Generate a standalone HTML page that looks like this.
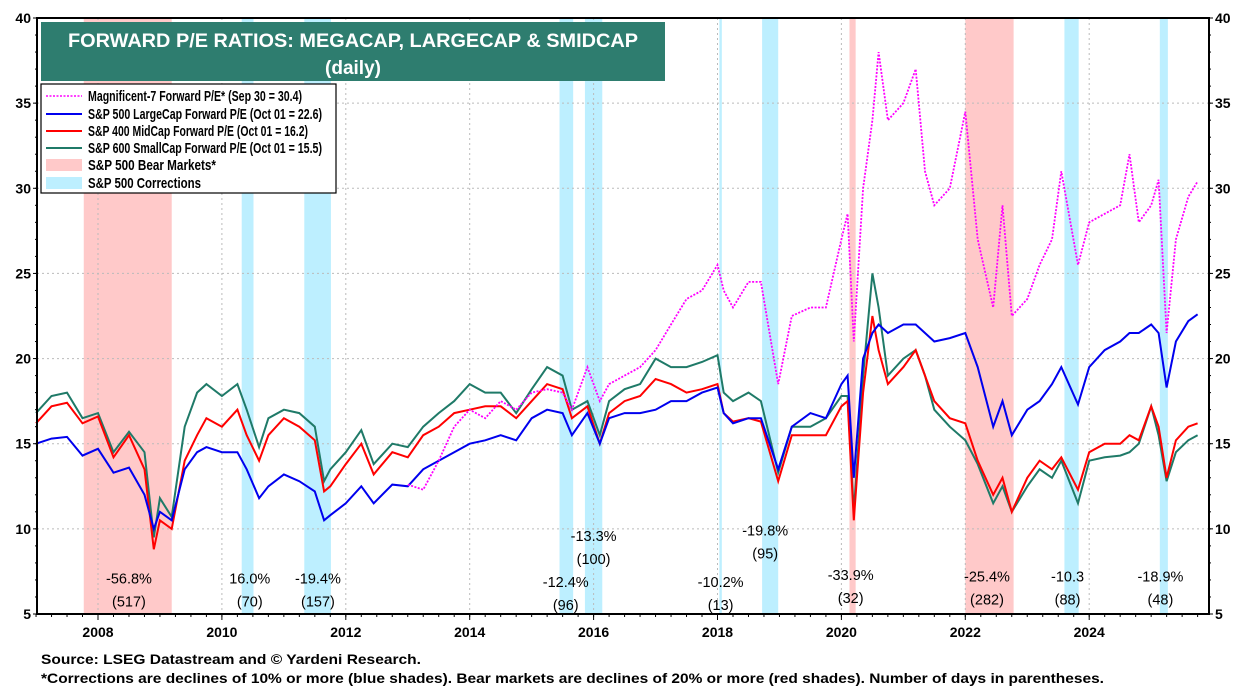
<!DOCTYPE html>
<html><head><meta charset="utf-8"><style>
body{margin:0;background:#fff;}
svg{display:block;font-family:"Liberation Sans",Arial,sans-serif;}
</style></head><body>
<svg id="chart" width="1250" height="694" viewBox="0 0 1250 694" xmlns="http://www.w3.org/2000/svg">
<g id="bands"></g><g id="grid"></g><g id="lines"></g><g id="axes"></g><g id="ann"></g>
<g>
<rect x="41" y="22" width="624" height="59" fill="#2e7d6f"/>
<text x="68" y="47" fill="#fff" font-size="19" font-weight="bold" textLength="570" lengthAdjust="spacingAndGlyphs">FORWARD P/E RATIOS: MEGACAP, LARGECAP &amp; SMIDCAP</text>
<text x="353" y="74" fill="#fff" font-size="19" font-weight="bold" text-anchor="middle">(daily)</text>
</g>
<g font-size="15" font-weight="bold">
<rect x="41" y="84" width="295" height="109" fill="#fff" stroke="#000" stroke-width="1.2"/>
<g><line x1="46" y1="96" x2="82" y2="96" stroke="#ff00ff" stroke-width="1.5" stroke-dasharray="2,1.5"/><text x="88" y="101" textLength="214" lengthAdjust="spacingAndGlyphs">Magnificent-7 Forward P/E* (Sep 30 = 30.4)</text></g>
<g><line x1="46" y1="114" x2="82" y2="114" stroke="#0000ee" stroke-width="2"/><text x="88" y="119" textLength="234" lengthAdjust="spacingAndGlyphs">S&amp;P 500 LargeCap Forward P/E (Oct 01 = 22.6)</text></g>
<g><line x1="46" y1="131" x2="82" y2="131" stroke="#ff0000" stroke-width="2"/><text x="88" y="136" textLength="220" lengthAdjust="spacingAndGlyphs">S&amp;P 400 MidCap Forward P/E (Oct 01 = 16.2)</text></g>
<g><line x1="46" y1="148" x2="82" y2="148" stroke="#1f7a68" stroke-width="2"/><text x="88" y="153" textLength="234" lengthAdjust="spacingAndGlyphs">S&amp;P 600 SmallCap Forward P/E (Oct 01 = 15.5)</text></g>
<g><rect x="46" y="159" width="36" height="12" fill="#ffc9c9"/><text x="88" y="170" textLength="128" lengthAdjust="spacingAndGlyphs">S&amp;P 500 Bear Markets*</text></g>
<g><rect x="46" y="177" width="36" height="12" fill="#bdefff"/><text x="88" y="188" textLength="113" lengthAdjust="spacingAndGlyphs">S&amp;P 500 Corrections</text></g>
</g>
<text x="41" y="664" font-size="14" font-weight="bold" textLength="380" lengthAdjust="spacingAndGlyphs">Source: LSEG Datastream and © Yardeni Research.</text>
<text x="41" y="683" font-size="14" font-weight="bold" textLength="1063" lengthAdjust="spacingAndGlyphs">*Corrections are declines of 10% or more (blue shades). Bear markets are declines of 20% or more (red shades). Number of days in parentheses.</text>
</svg>
<script>
const dates=[2007.0,2007.25,2007.5,2007.75,2008.0,2008.25,2008.5,2008.75,2008.9,2009.0,2009.19,2009.4,2009.6,2009.75,2010.0,2010.25,2010.4,2010.6,2010.75,2011.0,2011.25,2011.5,2011.65,2011.75,2012.0,2012.25,2012.45,2012.75,2013.0,2013.25,2013.5,2013.75,2014.0,2014.25,2014.5,2014.75,2015.0,2015.25,2015.5,2015.65,2015.9,2016.1,2016.25,2016.5,2016.75,2017.0,2017.25,2017.5,2017.75,2018.0,2018.1,2018.25,2018.5,2018.7,2018.98,2019.2,2019.5,2019.75,2020.0,2020.1,2020.2,2020.35,2020.5,2020.6,2020.75,2021.0,2021.2,2021.35,2021.5,2021.75,2022.0,2022.2,2022.45,2022.6,2022.75,2023.0,2023.2,2023.4,2023.55,2023.82,2024.0,2024.25,2024.5,2024.65,2024.8,2025.0,2025.12,2025.25,2025.4,2025.6,2025.75];
const largeCap=[15.0,15.3,15.4,14.3,14.7,13.3,13.6,12.0,10.0,11.0,10.5,13.5,14.5,14.8,14.5,14.5,13.5,11.8,12.5,13.2,12.8,12.2,10.5,10.8,11.5,12.5,11.5,12.6,12.5,13.5,14.0,14.5,15.0,15.2,15.5,15.2,16.5,17.0,16.8,15.5,16.8,15.0,16.5,16.8,16.8,17.0,17.5,17.5,18.0,18.3,16.8,16.2,16.5,16.5,13.5,16.0,16.8,16.5,18.5,19.0,13.0,20.0,21.5,22.0,21.5,22.0,22.0,21.5,21.0,21.2,21.5,19.5,16.0,17.5,15.5,17.0,17.5,18.5,19.5,17.3,19.5,20.5,21.0,21.5,21.5,22.0,21.5,18.3,21.0,22.2,22.6];
const midCap=[16.2,17.2,17.4,16.2,16.6,14.2,15.5,13.5,8.8,10.5,10.0,14.0,15.5,16.5,16.0,17.0,15.5,14.0,15.5,16.5,16.0,15.2,12.2,12.5,13.8,15.0,13.2,14.5,14.2,15.5,16.0,16.8,17.0,17.2,17.2,16.5,17.5,18.5,18.2,16.5,17.2,15.0,16.8,17.5,17.8,18.8,18.5,18.0,18.2,18.5,16.8,16.3,16.5,16.3,12.8,15.5,15.5,15.5,17.2,17.5,10.5,18.0,22.5,20.5,18.5,19.5,20.5,19.0,17.5,16.5,16.2,14.0,12.0,13.0,11.0,13.0,14.0,13.5,14.2,12.3,14.5,15.0,15.0,15.5,15.2,17.2,16.0,13.0,15.2,16.0,16.2];
const smallCap=[16.8,17.8,18.0,16.5,16.8,14.5,15.7,14.5,9.5,11.8,10.7,16.0,18.0,18.5,17.8,18.5,17.0,14.8,16.5,17.0,16.8,16.0,12.8,13.5,14.5,15.8,13.8,15.0,14.8,16.0,16.8,17.5,18.5,18.0,18.0,16.8,18.2,19.5,19.0,17.0,17.5,15.5,17.5,18.2,18.5,20.0,19.5,19.5,19.8,20.2,18.0,17.5,18.0,17.5,13.3,16.0,16.0,16.5,17.8,17.8,11.0,19.0,25.0,23.0,19.0,20.0,20.5,19.0,17.0,16.0,15.2,13.8,11.5,12.5,11.0,12.5,13.5,13.0,14.0,11.5,14.0,14.2,14.3,14.5,15.0,17.2,15.5,12.8,14.5,15.2,15.5];
const mag7=[null,null,null,null,null,null,null,null,null,null,null,null,null,null,null,null,null,null,null,null,null,null,null,null,null,null,null,null,12.6,12.3,14.0,16.0,17.0,16.5,17.5,17.0,18.0,18.2,18.0,17.0,19.5,17.5,18.5,19.0,19.5,20.5,22.0,23.5,24.0,25.5,24.0,23.0,24.5,24.5,18.5,22.5,23.0,23.0,27.0,28.5,21.0,30.0,34.0,38.0,34.0,35.0,37.0,31.0,29.0,30.0,34.5,27.0,23.0,29.0,22.5,23.5,25.5,27.0,31.0,25.5,28.0,28.5,29.0,32.0,28.0,29.0,30.5,21.5,27.0,29.5,30.4];
const bearStarts=[2007.77,2020.13,2022.0];
const bearEnds=[2009.19,2020.23,2022.78];
const corrStarts=[2010.32,2011.33,2015.45,2015.86,2018.03,2018.72,2023.6,2025.14];
const corrEnds=[2010.51,2011.76,2015.67,2016.14,2018.07,2018.98,2023.83,2025.27];
const yTicks=[5,10,15,20,25,30,35,40];
const xTicks=[2008,2010,2012,2014,2016,2018,2020,2022,2024];
const annPct=["-56.8%","16.0%","-19.4%","-12.4%","-13.3%","-10.2%","-19.8%","-33.9%","-25.4%","-10.3","-18.9%"];
const annDays=["(517)","(70)","(157)","(96)","(100)","(13)","(95)","(32)","(282)","(88)","(48)"];
const annDate=[2008.5,2010.45,2011.55,2015.55,2016.0,2018.05,2018.77,2020.15,2022.35,2023.65,2025.15];
const annLevel=[6.8,6.8,6.8,6.6,9.3,6.6,9.6,7.0,6.9,6.9,6.9];

const L=37,R=1209,T=18,B=614;
const x=d=>98+(d-2008)*61.95;
const y=v=>B-(v-5)*(B-T)/35;
const NS="http://www.w3.org/2000/svg";
function mk(tag,parent,attrs){const e=document.createElementNS(NS,tag);for(const k in attrs)e.setAttribute(k,attrs[k]);parent.appendChild(e);return e;}
const gb=document.getElementById('bands'),gg=document.getElementById('grid'),gl=document.getElementById('lines'),ga=document.getElementById('axes'),gn=document.getElementById('ann');
bearStarts.forEach((s,i)=>{const r=mk('rect',gb,{x:x(s),y:T,width:x(bearEnds[i])-x(s),height:B-T,fill:'#ffc9c9'});

});
corrStarts.forEach((s,i)=>{const r=mk('rect',gb,{x:x(s),y:T,width:Math.max(2,x(corrEnds[i])-x(s)),height:B-T,fill:'#bdefff'});

});
yTicks.forEach(v=>{if(v>5&&v<40){const g=mk('line',gg,{x1:L,x2:R,y1:y(v),y2:y(v),stroke:'#bbb','stroke-dasharray':'2,3'});

}
const t1=mk('text',ga,{x:L-6,y:y(v)+5,'font-size':14,'font-weight':'bold','text-anchor':'end'});t1.textContent=v;


const t2=mk('text',ga,{x:R+6,y:y(v)+5,'font-size':14,'font-weight':'bold'});t2.textContent=v;


mk('line',ga,{x1:L-4,x2:L,y1:y(v),y2:y(v),stroke:'#000'});mk('line',ga,{x1:R,x2:R+4,y1:y(v),y2:y(v),stroke:'#000'});});
for(let v=5;v<=40;v++){mk('line',ga,{x1:L-2,x2:L,y1:y(v),y2:y(v),stroke:'#000'});mk('line',ga,{x1:R,x2:R+2,y1:y(v),y2:y(v),stroke:'#000'});}
xTicks.forEach(d=>{const g=mk('line',gg,{x1:x(d),x2:x(d),y1:T,y2:B,stroke:'#bbb','stroke-dasharray':'2,3'});


const t=mk('text',ga,{x:x(d),y:B+23,'font-size':14,'font-weight':'bold','text-anchor':'middle'});t.textContent=d;


mk('line',ga,{x1:x(d),x2:x(d),y1:B,y2:B+6,stroke:'#000'});});
for(let d=2007;d<=2025.9;d+=0.25){mk('line',ga,{x1:x(d),x2:x(d),y1:B,y2:B+3,stroke:'#000'});}
mk('rect',ga,{x:L,y:T,width:R-L,height:B-T,fill:'none',stroke:'#000','stroke-width':2});
function path(arr){let s='',pen=false;arr.forEach((v,i)=>{if(v==null){pen=false;return;}s+=(pen?'L':'M')+x(dates[i]).toFixed(1)+','+y(v).toFixed(1);pen=true;});return s;}
const s1=mk('path',gl,{d:path(smallCap),fill:'none',stroke:'#1f7a68','stroke-width':2});


const s2=mk('path',gl,{d:path(midCap),fill:'none',stroke:'#ff0000','stroke-width':2});


const s3=mk('path',gl,{d:path(largeCap),fill:'none',stroke:'#0000ee','stroke-width':2});


const s4=mk('path',gl,{d:path(mag7),fill:'none',stroke:'#ff00ff','stroke-width':1.8,'stroke-dasharray':'2,1.5'});


annPct.forEach((p,i)=>{const cx=x(annDate[i]),cy=y(annLevel[i]);
const a=mk('text',gn,{x:cx,y:cy,'font-size':14.5,'text-anchor':'middle'});a.textContent=p;


const b=mk('text',gn,{x:cx,y:cy+23,'font-size':14.5,'text-anchor':'middle'});b.textContent=annDays[i];

});
</script>
</body></html>
